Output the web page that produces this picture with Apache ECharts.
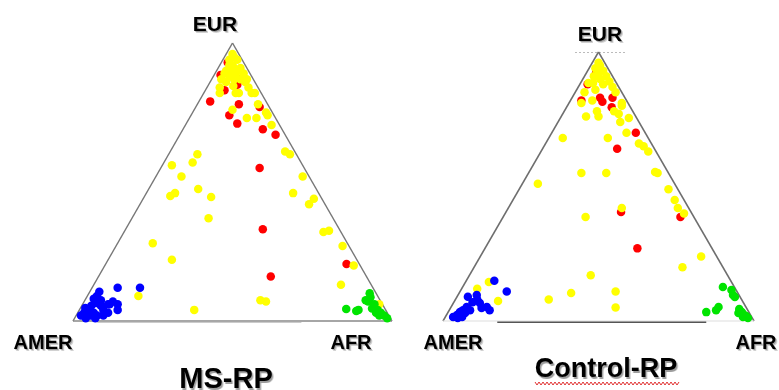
<!DOCTYPE html>
<html>
<head>
<meta charset="utf-8">
<script src="https://cdn.jsdelivr.net/npm/echarts@6/dist/echarts.min.js"></script>
<style>
  html, body { margin: 0; padding: 0; background: #fff; }
  #chart { width: 779px; height: 390px; }
</style>
</head>
<body>
<div id="chart"></div>
<script>
// each sample: [AFR %, EUR %]  (AMER % = 100 - AFR - EUR)
const msRed = [
  [2, 93], [2, 88.5], [9, 85], [9, 87], [6, 83], [3.5, 79], [13, 78], [12, 74],
  [16, 71], [20, 77], [25, 69], [30, 67], [31, 55], [43, 33], [54, 16], [75.5, 20.5]
]
const msYellow = [
  [2, 96], [3, 95], [2, 94], [4.5, 94], [4, 92], [3, 92], [5, 91], [7, 91],
  [3, 90], [5, 90], [7, 90], [9, 89], [3, 89], [5, 88], [7, 88], [9, 87],
  [11, 86], [3, 87], [7, 87], [5, 86], [11, 87], [4, 84], [8, 84.5],
  [5, 82], [10, 82], [11, 82], [15, 82], [16, 82], [13, 84], [19, 78], [12, 76],
  [18, 73], [21, 73], [23, 75], [24, 74], [27, 70.5], [36, 61], [38, 60],
  [9, 60], [9, 57], [3, 56], [8, 52], [15.5, 47.5], [9, 46], [8, 45], [21, 44.6],
  [46, 52], [46, 46], [53.5, 44], [53, 42], [24, 37], [11, 28], [20, 22],
  [62.5, 32], [64, 32.5], [71, 27], [78, 20], [77.5, 13], [16, 9], [55, 7.5],
  [57, 7], [36, 4], [93, 6]
]
const msBlue = [
  [3, 10.5], [8, 12], [15, 12], [11, 6], [12, 4], [9, 7], [8, 6], [3, 9],
  [5, 7.5], [4, 6.5], [3, 5.5], [6, 5.5], [7.5, 4], [3, 4], [5, 3], [2, 3],
  [4.5, 2], [6.5, 2], [8.5, 2], [1.5, 2], [3.5, 1], [6.5, 1], [9.5, 3], [8.5, 6],
  [2.5, 8], [1.5, 4.7]
]
const msGreen = [
  [88, 10], [89, 8.5], [89, 7], [91.5, 6], [91.5, 4.5], [93.5, 4], [95, 3],
  [96.5, 2], [95, 2], [93.5, 3], [83.5, 4.3], [87, 3.6], [87.5, 4], [98, 1], [88, 7.5]
]

const ctRed = [
  [3, 92.5], [2.5, 88], [3.5, 82], [10.5, 81.5], [9, 83], [13, 83], [14.5, 79.5],
  [27, 70], [24, 64], [37, 40.5], [57, 38.7], [49, 27]
]
const ctYellow = [
  [2, 96], [3, 95], [2, 94], [5, 93], [4, 92], [7, 91], [3, 91], [5.5, 90],
  [9, 89], [4, 88.5], [7.5, 88], [11, 87], [6, 86], [2.5, 88.5], [3, 85], [13, 85],
  [17, 81], [4, 81], [7, 82], [8, 76], [12, 76], [10.5, 78], [17.5, 80], [16, 78],
  [18, 77], [22, 75.5], [20, 74], [24, 70], [19, 68], [4.5, 68], [30, 66], [32, 65],
  [34.5, 63], [17, 55], [25, 55], [40.5, 55.4], [41.5, 55], [5, 51], [48, 49],
  [52, 45], [54.5, 42], [57.5, 40], [36.5, 42], [26.5, 38.7], [71, 24], [67, 20],
  [39, 17], [36, 10.4], [30, 8], [50, 11], [53, 5], [5, 12], [7.5, 14.5], [14, 7.4]
]
const ctBlue = [
  [9, 15], [15, 11], [6, 9.7], [3.5, 9], [6, 7], [8.5, 6.7], [11.5, 5.2], [13, 4],
  [10, 4.8], [5, 5.2], [4.4, 4], [3.8, 3.3], [3.4, 2.2], [2.5, 1.5], [5.6, 3],
  [6.7, 4], [4.2, 1.1], [5.4, 1.5], [7, 8]
]
const ctGreen = [
  [83.7, 12.6], [87, 11.5], [88.4, 9.7], [89.4, 8.9], [83, 3.3], [85.8, 4], [86, 5.2],
  [93, 4.5], [94.4, 3.3], [95.2, 2.6], [94, 3], [96.5, 1.9], [95.7, 1.5], [93.5, 3], [97.5, 1.1]
]

// corners of the simplex
const AMER = [0, 0]
const AFR = [100, 0]
const EUR = [0, 100]

// ternary -> plane: horizontal = AFR + EUR/2, vertical = EUR
const toXY = (p) => [(p[0] + p[1] / 2) / 100, p[1] / 100]

const chart = echarts.init(document.getElementById('chart'))

const edge = (idx, pts, color, width, z) => ({
  type: 'line',
  xAxisIndex: idx,
  yAxisIndex: idx,
  data: pts.map(toXY),
  symbol: 'none',
  silent: true,
  clip: false,
  z: z || 1,
  lineStyle: { color: color, width: width }
})

const dots = (idx, pts, color, z) => ({
  type: 'scatter',
  xAxisIndex: idx,
  yAxisIndex: idx,
  data: pts.map(toXY),
  symbolSize: 8.5,
  silent: true,
  z: z,
  itemStyle: { color: color, opacity: 1 }
})

// bold label with a soft drop shadow (a faded copy underneath)
const label = (text, x, y, size) => {
  const font = 'bold ' + size + 'px "Liberation Sans", Arial, sans-serif'
  const base = { text: text, font: font, align: 'center', verticalAlign: 'middle' }
  return [
    { type: 'text', x: x + 2, y: y + 2, style: { ...base, fill: 'rgba(0,0,0,0.18)' } },
    { type: 'text', x: x + 1, y: y + 1.5, style: { ...base, fill: 'rgba(0,0,0,0.25)' } },
    { type: 'text', x: x, y: y, style: { ...base, fill: '#000' } }
  ]
}

// red squiggle under the Control-RP title
const wave = []
for (let i = 0; i <= 72; i++) wave.push([535 + i * 2, i % 2 === 0 ? 382 : 385])

const axisOff = { type: 'value', min: 0, max: 1, show: false }

chart.setOption({
  animation: false,
  grid: [
    { left: 73, top: 43, width: 319, height: 278 },
    { left: 443, top: 52, width: 311, height: 269 }
  ],
  xAxis: [{ ...axisOff, gridIndex: 0 }, { ...axisOff, gridIndex: 1 }],
  yAxis: [{ ...axisOff, gridIndex: 0 }, { ...axisOff, gridIndex: 1 }],
  series: [
    edge(0, [AMER, EUR], '#777', 1.5),
    edge(0, [AFR, EUR], '#777', 1.5),
    edge(0, [AMER, AFR], '#888', 1.5),
    edge(0, [[7.8, -0.4], [71.8, -0.4]], '#aaa', 1),
    dots(0, msRed, '#ff0000', 2),
    dots(0, msYellow, '#ffff00', 3),
    dots(0, msBlue, '#0000ff', 4),
    dots(0, msGreen, '#00e400', 5),

    edge(1, [AMER, EUR], '#6e6e6e', 1.5),
    edge(1, [AFR, EUR], '#6e6e6e', 1.5),
    edge(1, [AMER, AFR], '#dddddd', 1),
    edge(1, [[17.7, -0.5], [84.9, -0.5]], '#555', 1.5),
    dots(1, ctRed, '#ff0000', 2),
    dots(1, ctYellow, '#ffff00', 3),
    dots(1, ctBlue, '#0000ff', 4),
    dots(1, ctGreen, '#00e400', 5)
  ],
  graphic: [
    ...label('EUR', 215, 25, 21),
    ...label('AMER', 43, 343, 20),
    ...label('AFR', 351, 343, 20),
    ...label('MS-RP', 226, 380, 29),
    ...label('EUR', 600, 35, 21),
    ...label('AMER', 453, 343, 20),
    ...label('AFR', 756, 343, 20),
    ...label('Control-RP', 606, 370, 27),
    {
      type: 'line',
      shape: { x1: 575, y1: 52.5, x2: 627, y2: 52.5 },
      style: { stroke: '#bbb', lineWidth: 1, lineDash: [2, 2] }
    },
    {
      type: 'polyline',
      shape: { points: wave },
      style: { stroke: '#e03030', lineWidth: 1, fill: null }
    }
  ]
})

window.addEventListener('resize', () => chart.resize())
</script>
</body>
</html>
